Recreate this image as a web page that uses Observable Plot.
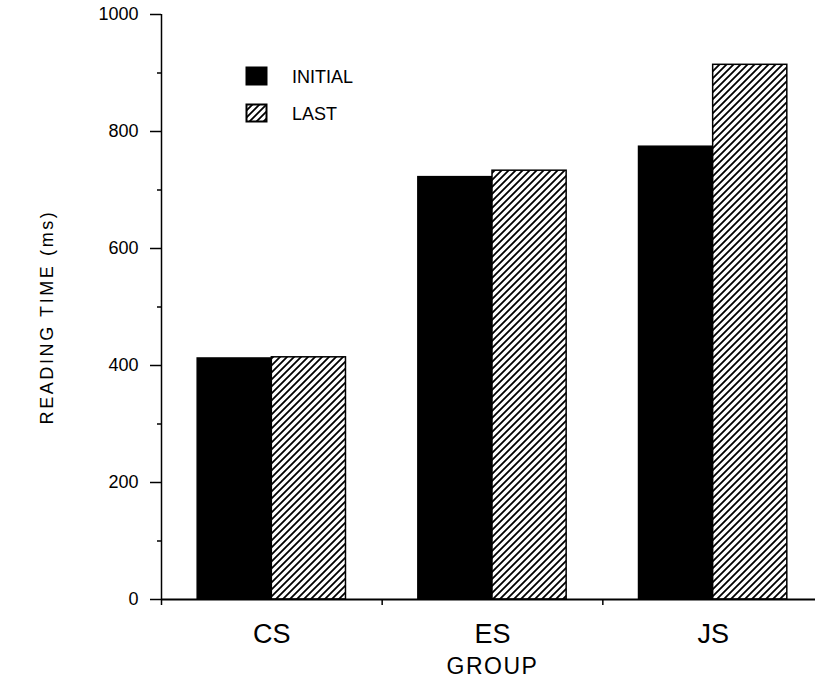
<!DOCTYPE html>
<html><head><meta charset="utf-8">
<script src="https://cdn.jsdelivr.net/npm/d3@7"></script>
<script src="https://cdn.jsdelivr.net/npm/@observablehq/plot@0.6"></script>
<style>
body{margin:0;background:#fff;}
#wrap{position:relative;width:815px;height:684px;}
#legend{position:absolute;left:0;top:0;pointer-events:none;}
</style></head><body>
<svg width="0" height="0" style="position:absolute">
  <defs>
    <pattern id="hatch" patternUnits="userSpaceOnUse" width="7" height="7">
      <rect width="7" height="7" fill="white"/>
      <path d="M-1,1 l2,-2 M0,7 l7,-7 M6,8 l2,-2" stroke="black" stroke-width="1.8"/>
    </pattern>
  </defs>
</svg>
<div id="wrap"></div>
<script>
const groups = ["CS", "ES", "JS"];
const series = ["INITIAL", "LAST"];
const initialValues = [412, 722, 774];
const lastValues = [414, 733, 914];
const yTicks = [0, 200, 400, 600, 800, 1000];
const yMinorTicks = [100, 300, 500, 700, 900];
const yLabel = "READING TIME (ms)";
const xLabel = "GROUP";

const bw = 0.336;
const rows = [];
groups.forEach((g, i) => {
  rows.push({group: g, gi: i, series: series[0], value: initialValues[i], x1: i + 0.5 - bw, x2: i + 0.5});
  rows.push({group: g, gi: i, series: series[1], value: lastValues[i], x1: i + 0.5, x2: i + 0.5 + bw});
});

const font = "Liberation Sans, Arial, sans-serif";

const chart = Plot.plot({
  width: 815,
  height: 684,
  marginTop: 14,
  marginBottom: 85,
  marginLeft: 161,
  marginRight: 0,
  style: {fontFamily: font, fontSize: "18px", background: "white", color: "black"},
  x: {type: "linear", domain: [0, groups.length], range: [161, 823]},
  y: {domain: [0, 1000]},
  marks: [
    Plot.rectY(rows.filter(d => d.series === series[0]), {x1: "x1", x2: "x2", y: "value", fill: "black", stroke: "black", strokeWidth: 1.5}),
    Plot.rectY(rows.filter(d => d.series === series[1]), {x1: "x1", x2: "x2", y: "value", fill: "url(#hatch)", stroke: "black", strokeWidth: 1.5}),
    Plot.ruleY([0], {strokeWidth: 2}),
    Plot.ruleX([0], {y1: 0, y2: 1000, strokeWidth: 1.5}),
    Plot.axisY({ticks: yTicks, tickSize: 11, tickPadding: 12, fontSize: 18, tickFormat: d => String(d), label: null, strokeWidth: 1.5}),
    Plot.axisY({ticks: yMinorTicks, tickSize: 4, tickFormat: () => "", label: null, strokeWidth: 1.5}),
    Plot.axisX({ticks: d3.range(groups.length), tickSize: 6, tickFormat: () => "", label: null, strokeWidth: 1.5}),
    Plot.axisX({ticks: groups.map((g, i) => i + 0.5), tickSize: 0, tickPadding: 24, tickFormat: v => groups[Math.floor(v)], fontSize: 27, label: null}),
    Plot.text([xLabel], {x: () => groups.length / 2, frameAnchor: "bottom", lineAnchor: "middle", dy: 67, fontSize: 23}),
    Plot.text([yLabel], {frameAnchor: "left", textAnchor: "middle", lineAnchor: "middle", rotate: -90, dx: -114, dy: 10, fontSize: 18})
  ]
});
d3.select(chart).selectAll("text").filter(function() { return this.textContent === yLabel; }).attr("letter-spacing", "2.6px");
d3.select(chart).selectAll("text").filter(function() { return this.textContent === xLabel; }).attr("letter-spacing", "1.5px");
const wrap = document.getElementById("wrap");
wrap.appendChild(chart);

// legend overlay
const ns = "http://www.w3.org/2000/svg";
const leg = document.createElementNS(ns, "svg");
leg.setAttribute("id", "legend");
leg.setAttribute("width", 815);
leg.setAttribute("height", 684);
const fills = ["black", "url(#hatch)"];
series.forEach((s, i) => {
  const r = document.createElementNS(ns, "rect");
  r.setAttribute("x", 246.5); r.setAttribute("y", 67.5 + i * 37);
  r.setAttribute("width", 20); r.setAttribute("height", 17);
  r.setAttribute("fill", fills[i]); r.setAttribute("stroke", "black"); r.setAttribute("stroke-width", 2);
  leg.appendChild(r);
  const t = document.createElementNS(ns, "text");
  t.setAttribute("x", 292); t.setAttribute("y", 83 + i * 37);
  t.setAttribute("font-family", font); t.setAttribute("font-size", 18);
  t.textContent = s;
  leg.appendChild(t);
});
wrap.appendChild(leg);
</script>
</body></html>
